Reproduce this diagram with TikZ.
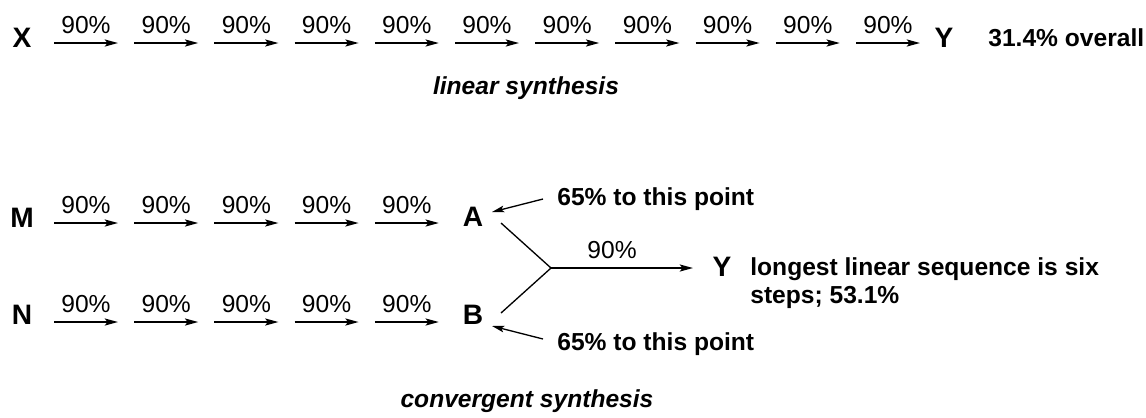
\documentclass[tikz,border=0pt]{standalone}
\usepackage{fontspec}
\setmainfont{Liberation Sans}
\usepackage{tikz}
\usetikzlibrary{arrows.meta, positioning}
\tikzset{
  stepArrow/.style = {line width=1pt, -{Stealth[length=7.5pt, width=4pt, inset=1.5pt]}},
  thinArrow/.style = {line width=0.75pt, -{Stealth[length=7pt, width=3.8pt, inset=1.5pt]}},
  branch/.style    = {line width=0.75pt},
  letter/.style    = {inner sep=0pt, font=\fontsize{16}{19}\selectfont\bfseries},
  pct/.style       = {above=5pt, inner sep=0pt, font=\fontsize{14}{16}\selectfont},
  note/.style      = {inner sep=0pt, font=\fontsize{14}{16}\selectfont\bfseries},
  synth/.style     = {inner sep=0pt, font=\fontsize{14}{16}\selectfont\bfseries\itshape},
}

\begin{document}
\begin{tikzpicture}[x=0.02cm, y=-0.02cm]
    \useasboundingbox (0,0) rectangle (1146,417);

    %% Linear synthesis
    \node[letter] (X) at (22,38) {X};
    \node[letter] (Y) at (944,38) {Y};
    \node[note, anchor=west] (overall) at (988,38) {31.4\% overall};
    \foreach \i in {0,...,10} {
      \coordinate (ls\i) at ({54+80.2*\i},43);
      \coordinate (le\i) at ({118+80.2*\i},43);
      \draw[stepArrow] (ls\i) -- node[pct]{90\%} (le\i);
    }
    \node[synth] (lin) at (526,88) {linear synthesis};

    %% Convergent synthesis -- two branches
    \node[letter] (M) at (22,218) {M};
    \node[letter] (N) at (22,315) {N};
    \node[letter] (A) at (473,217) {A};
    \node[letter] (B) at (473,315) {B};
    \foreach \r/\yy in {m/223, n/322} {
      \foreach \i in {0,...,4} {
        \coordinate (\r s\i) at ({54+80.2*\i},\yy);
        \coordinate (\r e\i) at ({118+80.2*\i},\yy);
        \draw[stepArrow] (\r s\i) -- node[pct]{90\%} (\r e\i);
      }
    }

    %% Joining step
    \coordinate (aout) at (501,223);
    \coordinate (bout) at (501,313);
    \coordinate (jn)   at (551,268);
    \coordinate (yin)  at (693,268);
    \draw[branch] (aout) -- (jn) -- (bout);
    \draw[stepArrow] (jn) -- node[pct, pos=0.43]{90\%} (yin);
    \node[letter] (Yc) at (722,267) {Y};
    \node[note, anchor=west, align=left] (seq) at (750,283)
          {longest linear sequence is six\\steps; 53.1\%};

    %% Pointers
    \node[note, anchor=west] (ptA) at (557,199) {65\% to this point};
    \node[note, anchor=west] (ptB) at (557,344) {65\% to this point};
    \coordinate (pa1) at (543,199);
    \coordinate (pa2) at (492,212);
    \coordinate (pb1) at (543,339);
    \coordinate (pb2) at (492,326);
    \draw[thinArrow] (pa1) -- (pa2);
    \draw[thinArrow] (pb1) -- (pb2);

    \node[synth] (conv) at (527,401) {convergent synthesis};

\end{tikzpicture}
\end{document}
